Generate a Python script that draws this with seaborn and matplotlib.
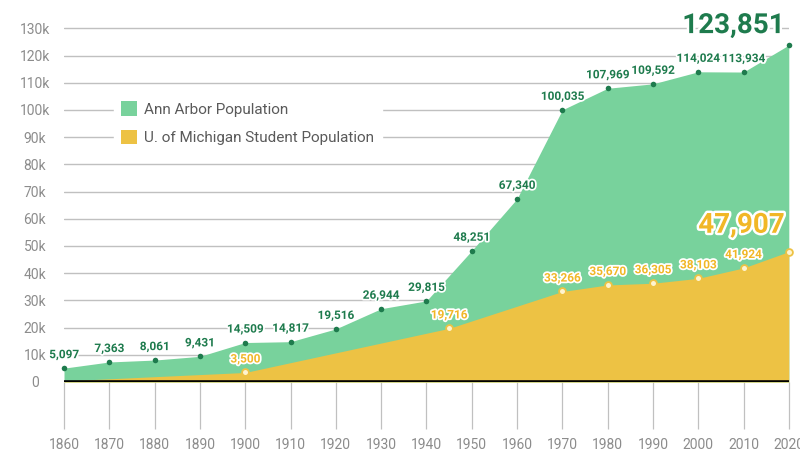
import matplotlib.pyplot as plt
import matplotlib.patheffects as pe
import pandas as pd
import seaborn as sns

# Ann Arbor population by census year
years = [1860, 1870, 1880, 1890, 1900, 1910, 1920, 1930, 1940, 1950,
         1960, 1970, 1980, 1990, 2000, 2010, 2020]
city_pop = [5097, 7363, 8061, 9431, 14509, 14817, 19516, 26944, 29815, 48251,
            67340, 100035, 107969, 109592, 114024, 113934, 123851]

# U. of Michigan student population (1860 value)
student_years = [1860, 1900, 1945, 1970, 1980, 1990, 2000, 2010, 2020]
student_pop = [400, 3500, 19716, 33266, 35670, 36305, 38103, 41924, 47907]

ytick_vals = list(range(0, 130001, 10000))
ytick_labels = ["0"] + [f"{v // 1000}k" for v in ytick_vals[1:]]

GREEN = "#78d29c"
GREEN_DARK = "#1e7b4d"
YELLOW = "#edc244"
YELLOW_TXT = "#f1b726"

sns.set_theme(style="white")
plt.rcParams["font.family"] = ["Roboto", "DejaVu Sans"]

city = pd.DataFrame({"year": years, "pop": city_pop})
students = pd.DataFrame({"year": student_years, "pop": student_pop})

fig = plt.figure(figsize=(8, 4.54), dpi=100)
ax = fig.add_axes([0.08, 0.1586, 0.906, 0.785])

ax.fill_between(city["year"], city["pop"], color=GREEN, lw=0, zorder=1,
                label="Ann Arbor Population")
ax.fill_between(students["year"], students["pop"], color=YELLOW, lw=0, zorder=2,
                label="U. of Michigan Student Population")
ax.axhline(0, color="black", lw=2.6, zorder=3)

sns.scatterplot(data=city, x="year", y="pop", ax=ax, color=GREEN_DARK, s=16,
                linewidth=0, zorder=4, clip_on=False)
sns.scatterplot(data=students.iloc[1:], x="year", y="pop", ax=ax, color="#fff4cf",
                edgecolor=YELLOW, linewidth=1.3, s=24, zorder=4, clip_on=False)

stroke = [pe.withStroke(linewidth=2.5, foreground="white")]
for x, y in zip(city["year"][:-1], city["pop"][:-1]):
    ax.annotate(f"{y:,}", (x, y), xytext=(0, 5), textcoords="offset points",
                ha="center", va="bottom", fontsize=8.5, fontweight="bold",
                color=GREEN_DARK, path_effects=stroke, zorder=5)
for x, y in zip(students["year"][1:-1], students["pop"][1:-1]):
    ax.annotate(f"{y:,}", (x, y), xytext=(0, 5), textcoords="offset points",
                ha="center", va="bottom", fontsize=8.5, fontweight="bold",
                color=YELLOW_TXT, path_effects=stroke, zorder=5)

big_stroke = [pe.withStroke(linewidth=3.5, foreground="white")]
ax.annotate(f"{city_pop[-1]:,}", (years[-1], city_pop[-1]), xytext=(-3, 14),
            textcoords="offset points", ha="right", va="center", fontsize=20,
            fontweight="bold", color=GREEN_DARK, path_effects=big_stroke, zorder=5)
ax.annotate(f"{student_pop[-1]:,}", (student_years[-1], student_pop[-1]), xytext=(-3, 19),
            textcoords="offset points", ha="right", va="center", fontsize=20,
            fontweight="bold", color=YELLOW_TXT, path_effects=big_stroke, zorder=5)

ax.set_xlim(1860, 2020)
ax.set_ylim(0, 131000)
ax.set_xticks(years)
ax.set_yticks(ytick_vals)
ax.set_yticklabels(ytick_labels)
ax.set_xlabel("")
ax.set_ylabel("")
for s in ax.spines.values():
    s.set_visible(False)

ax.set_axisbelow(True)
ax.yaxis.grid(True, color="#c0c0c0", lw=1)
ax.xaxis.grid(False)
ax.tick_params(axis="x", length=34, width=0.9, color="#c0c0c0", direction="out",
               pad=6, labelsize=10, labelcolor="#8c8c8c", bottom=True)
ax.tick_params(axis="y", length=0, pad=21, labelsize=10, labelcolor="#8c8c8c")
for lab in ax.get_yticklabels():
    lab.set_horizontalalignment("center")

leg = ax.legend(loc="upper left", bbox_to_anchor=(0.058, 0.83), frameon=True,
                facecolor="white", edgecolor="white", framealpha=1,
                fontsize=11, handlelength=1.05, handleheight=1.05,
                handletextpad=0.45, labelspacing=0.85, borderpad=0.5)
for t in leg.get_texts():
    t.set_color("#5a5a5a")
leg.set_zorder(6)

fig.savefig("out.png", dpi=100)
